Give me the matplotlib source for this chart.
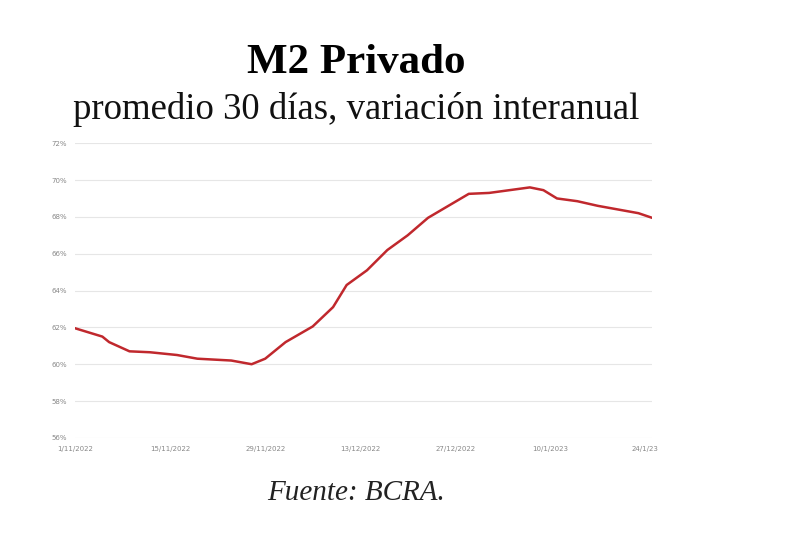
#!/usr/bin/env python3
import matplotlib
matplotlib.use('Agg')
import matplotlib.pyplot as plt
import numpy as np

# días desde 1/11/2022 y variación interanual (%)
days = [0, 4, 5, 8, 11, 15, 18, 23, 26, 28, 31, 35, 38, 40, 43, 46, 49, 52, 55,
        58, 61, 64, 67, 69, 71, 74, 77, 80, 83, 85]
values = [61.95, 61.5, 61.2, 60.7, 60.65, 60.5, 60.3, 60.2, 60.0, 60.3, 61.2, 62.05,
          63.1, 64.3, 65.1, 66.2, 67.0, 67.95, 68.6, 69.25, 69.3, 69.45, 69.6, 69.45,
          69.0, 68.85, 68.6, 68.4, 68.2, 67.95]
tick_days = [0, 14, 28, 42, 56, 70, 84]
tick_labels = ['1/11/2022', '15/11/2022', '29/11/2022', '13/12/2022',
               '27/12/2022', '10/1/2023', '24/1/23']
y_ticks = [56, 58, 60, 62, 64, 66, 68, 70, 72]

fig = plt.figure(figsize=(8, 5.55), dpi=100)
ax = fig.add_axes([0.094, 0.211, 0.721, 0.531])

ax.plot(days, values, color='#c0282d', lw=1.8)
ax.set_xlim(0, 85)
ax.set_ylim(56, 72)
ax.set_yticks(y_ticks)
ax.set_yticklabels([f'{v}%' for v in y_ticks])
ax.set_xticks(tick_days)
ax.set_xticklabels(tick_labels)
ax.tick_params(length=0, labelsize=5, colors='#888888', pad=6)
ax.grid(axis='y', color='#e6e6e6', lw=0.8)
ax.set_axisbelow(True)
for s in ax.spines.values():
    s.set_visible(False)

serif = ['Liberation Serif', 'DejaVu Serif']
fig.text(0.445, 0.886, 'M2 Privado', ha='center', va='center', fontsize=31,
         fontweight='bold', family=serif)
fig.text(0.445, 0.803, 'promedio 30 días, variación interanual', ha='center',
         va='center', fontsize=26.5, family=serif, color='#111111')
fig.text(0.445, 0.112, 'Fuente: BCRA.', ha='center', va='center', fontsize=21,
         style='italic', family=serif, color='#222222')

fig.savefig('out.png', dpi=100)
